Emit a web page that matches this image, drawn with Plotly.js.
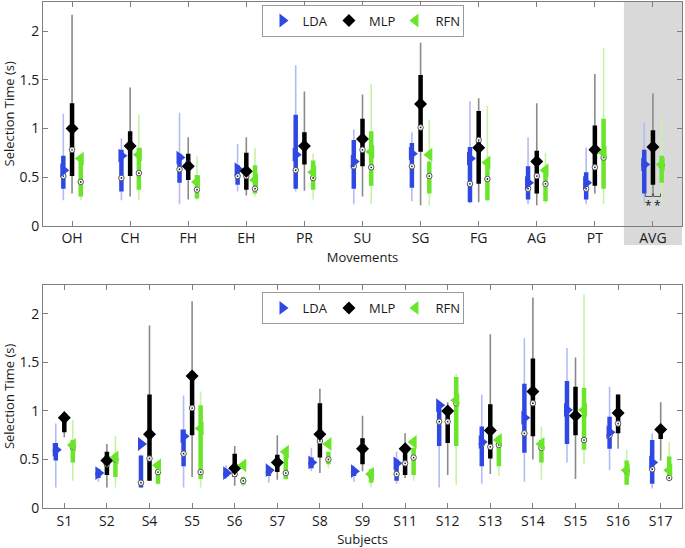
<!DOCTYPE html>
<html>
<head>
<meta charset="utf-8">
<script src="https://cdn.plot.ly/plotly-3.0.1.min.js"></script>
<style>html,body{margin:0;padding:0;background:#fff;}#chart{width:685px;height:548px;}</style>
</head>
<body>
<div id="chart"></div>
<script>
// ---------- categories ----------
const movements = ['OH','CH','FH','EH','PR','SU','SG','FG','AG','PT','AVG'];
const subjects  = ['S1','S2','S4','S5','S6','S7','S8','S9','S11','S12','S13','S14','S15','S16','S17'];
const yTickVals = [0, 0.5, 1, 1.5, 2];
const yTickText = ['0', '0.5', '1', '1.5', '2'];

// ---------- Movements: LDA ----------
const mvLdaMin    = [0.26,0.26,0.22,0.35,0.35,0.22,0.25,0.23,0.22,0.22,0.23];
const mvLdaQ1     = [0.38,0.35,0.44,0.42,0.38,0.38,0.39,0.24,0.27,0.27,0.33];
const mvLdaMedian = [0.51,0.49,0.58,0.51,0.57,0.61,0.61,0.43,0.38,0.38,0.62];
const mvLdaMean   = [0.57,0.72,0.70,0.58,0.73,0.66,0.74,0.69,0.44,0.44,0.63];
const mvLdaQ3     = [0.72,0.78,0.74,0.62,1.14,0.88,0.85,0.81,0.61,0.55,0.78];
const mvLdaMax    = [1.15,0.90,1.16,0.84,1.65,0.99,0.96,1.28,0.91,0.80,1.06];
// ---------- Movements: MLP ----------
const mvMlpMin    = [0.33,0.30,0.27,0.31,0.36,0.30,0.21,0.24,0.21,0.33,0.32];
const mvMlpQ1     = [0.51,0.51,0.47,0.37,0.63,0.61,0.76,0.43,0.33,0.41,0.42];
const mvMlpMedian = [0.78,0.80,0.64,0.51,0.80,0.78,1.01,0.88,0.51,0.60,0.80];
const mvMlpMean   = [1.00,0.82,0.61,0.56,0.82,0.89,1.25,0.80,0.66,0.78,0.81];
const mvMlpQ3     = [1.26,0.97,0.74,0.75,0.96,1.10,1.55,1.18,0.77,1.03,0.98];
const mvMlpMax    = [2.17,1.42,0.91,0.91,1.38,1.35,1.88,1.31,1.26,1.56,1.36];
// ---------- Movements: RFN ----------
const mvRfnMin    = [0.26,0.26,0.26,0.30,0.27,0.22,0.21,0.25,0.23,0.22,0.25];
const mvRfnQ1     = [0.30,0.37,0.28,0.33,0.37,0.41,0.33,0.26,0.25,0.38,0.44];
const mvRfnMedian = [0.45,0.54,0.37,0.38,0.49,0.60,0.51,0.48,0.43,0.70,0.62];
const mvRfnMean   = [0.69,0.73,0.45,0.47,0.55,0.76,0.73,0.65,0.57,0.75,0.63];
const mvRfnQ3     = [0.71,0.80,0.52,0.62,0.67,0.97,0.66,0.68,0.59,1.10,0.72];
const mvRfnMax    = [0.71,1.14,0.71,0.80,0.74,1.46,1.09,1.23,0.75,1.83,1.11];

// ---------- Subjects: LDA ----------
const sbLdaMin    = [0.21,0.27,0.21,0.21,0.30,0.26,0.38,0.27,0.25,0.21,0.25,0.27,0.47,0.39,0.20];
const sbLdaQ1     = [0.49,0.31,0.21,0.43,0.33,0.33,0.41,0.33,0.28,0.64,0.43,0.57,0.66,0.61,0.25];
const sbLdaMedian = [0.59,0.35,0.26,0.56,0.35,0.37,0.46,0.37,0.35,0.89,0.66,0.77,1.00,0.75,0.40];
const sbLdaMean   = [0.60,0.36,0.66,0.74,0.36,0.39,0.47,0.38,0.46,1.06,0.68,0.93,1.01,0.78,0.47];
const sbLdaQ3     = [0.67,0.40,0.54,0.81,0.40,0.41,0.52,0.41,0.50,1.08,0.84,1.28,1.31,0.94,0.70];
const sbLdaMax    = [0.87,0.41,0.55,1.16,0.44,0.43,0.62,0.44,0.58,1.08,1.17,1.75,1.65,1.25,0.77];
// ---------- Subjects: MLP ----------
const sbMlpMin    = [0.73,0.21,0.28,0.32,0.23,0.29,0.36,0.38,0.31,0.34,0.35,0.50,0.30,0.61,0.49];
const sbMlpQ1     = [0.78,0.34,0.28,0.75,0.32,0.37,0.52,0.45,0.34,0.67,0.51,0.74,0.75,0.77,0.71];
const sbMlpMedian = [0.92,0.45,0.51,1.03,0.35,0.45,0.69,0.64,0.46,0.89,0.63,1.08,0.94,0.87,0.80];
const sbMlpMean   = [0.93,0.49,0.76,1.36,0.41,0.47,0.76,0.61,0.61,1.00,0.80,1.20,0.95,0.98,0.81];
const sbMlpQ3     = [0.98,0.58,1.17,1.41,0.56,0.55,1.08,0.72,0.64,1.04,1.07,1.54,1.25,1.17,0.84];
const sbMlpMax    = [1.00,0.66,1.88,2.13,0.64,0.75,1.23,0.95,0.77,1.09,1.79,2.17,1.55,1.17,1.09];
// ---------- Subjects: RFN ----------
const sbRfnMin    = [0.28,0.21,0.24,0.21,0.22,0.29,0.41,0.21,0.28,0.24,0.33,0.29,0.45,0.24,0.27];
const sbRfnQ1     = [0.47,0.32,0.25,0.30,0.24,0.30,0.45,0.26,0.34,0.64,0.43,0.47,0.60,0.24,0.30];
const sbRfnMedian = [0.63,0.50,0.37,0.37,0.28,0.36,0.50,0.34,0.52,1.08,0.65,0.62,0.70,0.38,0.31];
const sbRfnMean   = [0.65,0.52,0.44,0.82,0.44,0.58,0.66,0.35,0.68,1.11,0.70,0.66,1.01,0.39,0.39];
const sbRfnQ3     = [0.70,0.56,0.41,1.06,0.32,0.60,0.58,0.40,0.62,1.35,0.74,0.70,1.24,0.49,0.53];
const sbRfnMax    = [0.91,0.74,0.46,1.20,0.33,0.62,0.58,0.41,0.70,1.38,0.76,0.84,2.20,0.60,0.68];

// ---------- styles ----------
const FONT = 'Open Sans, Arial, sans-serif';
const styles = {
  LDA: {whisker:'#b3bcf4', bar:'#2f48e4', marker:'#2f48e4', symbol:'triangle-right', size:12},
  MLP: {whisker:'#8a8a8a', bar:'#000000', marker:'#000000', symbol:'diamond', size:10},
  RFN: {whisker:'#c6f3a6', bar:'#6be52a', marker:'#6be52a', symbol:'triangle-left', size:12}
};

function segs(n, pos, lo, hi) {
  const xs = [], ys = [];
  for (let i = 0; i < n; i++) { xs.push(pos[i], pos[i], null); ys.push(lo[i], hi[i], null); }
  return {xs, ys};
}

function seriesTraces(name, cats, off, mn, q1, med, mean, q3, mx, xa, ya, leg) {
  const st = styles[name];
  const pos = cats.map((c, i) => i + 1 + off);
  const w = segs(cats.length, pos, mn, mx);
  const b = segs(cats.length, pos, q1, q3);
  return [
    {type:'scatter', mode:'lines', x:w.xs, y:w.ys, xaxis:xa, yaxis:ya, showlegend:false, hoverinfo:'skip',
     line:{color:st.whisker, width:1.6}},
    {type:'scatter', mode:'lines', x:b.xs, y:b.ys, xaxis:xa, yaxis:ya, showlegend:false, hoverinfo:'skip',
     line:{color:st.bar, width:4.5}},
    {type:'scatter', mode:'markers', x:pos, y:med, xaxis:xa, yaxis:ya, showlegend:false,
     marker:{symbol:'circle', size:5.5, color:'#ffffff', line:{color:'#555555', width:1}}},
    {type:'scatter', mode:'markers', x:pos, y:med, xaxis:xa, yaxis:ya, showlegend:false,
     marker:{symbol:'circle', size:1.8, color:'#222222', line:{width:0}}},
    {type:'scatter', mode:'markers', x:pos, y:mean, xaxis:xa, yaxis:ya, name:name, legend:leg, showlegend:true,
     marker:{symbol:st.symbol, size:st.size, color:st.marker, line:{width:0}}}
  ];
}

const offTop = 0.15, offBot = 0.2;
let traces = [];
const groups = [
  seriesTraces('LDA', movements, -offTop, mvLdaMin, mvLdaQ1, mvLdaMedian, mvLdaMean, mvLdaQ3, mvLdaMax, 'x', 'y', 'legend'),
  seriesTraces('MLP', movements, 0, mvMlpMin, mvMlpQ1, mvMlpMedian, mvMlpMean, mvMlpQ3, mvMlpMax, 'x', 'y', 'legend'),
  seriesTraces('RFN', movements, offTop, mvRfnMin, mvRfnQ1, mvRfnMedian, mvRfnMean, mvRfnQ3, mvRfnMax, 'x', 'y', 'legend'),
  seriesTraces('LDA', subjects, -offBot, sbLdaMin, sbLdaQ1, sbLdaMedian, sbLdaMean, sbLdaQ3, sbLdaMax, 'x2', 'y2', 'legend2'),
  seriesTraces('MLP', subjects, 0, sbMlpMin, sbMlpQ1, sbMlpMedian, sbMlpMean, sbMlpQ3, sbMlpMax, 'x2', 'y2', 'legend2'),
  seriesTraces('RFN', subjects, offBot, sbRfnMin, sbRfnQ1, sbRfnMedian, sbRfnMean, sbRfnQ3, sbRfnMax, 'x2', 'y2', 'legend2')
];
groups.forEach(g => traces.push(g[0], g[1]));
groups.forEach(g => traces.push(g[2], g[3], g[4]));

const axisCommon = {
  showline:true, linecolor:'#7f7f7f', linewidth:1, mirror:'ticks',
  ticks:'inside', ticklen:5, tickcolor:'#7f7f7f', showgrid:false, zeroline:false,
  tickfont:{family:FONT, size:14, color:'#1a1a1a'}
};

const legendCommon = {
  orientation:'h', x:0.5, xanchor:'center', yanchor:'top',
  bgcolor:'#ffffff', bordercolor:'#9a9a9a', borderwidth:1,
  font:{family:FONT, size:13}, itemwidth:30, tracegroupgap:0,
  entrywidth:0.104, entrywidthmode:'fraction'
};

const avgIdx = movements.indexOf('AVG') + 1;
const layout = {
  width:685, height:548,
  paper_bgcolor:'#ffffff', plot_bgcolor:'rgba(0,0,0,0)',
  margin:{l:43, r:3, t:2, b:40},
  font:{family:FONT, color:'#1a1a1a'},
  xaxis: Object.assign({}, axisCommon, {
    domain:[0,1], anchor:'y', range:[0.5, movements.length + 0.5],
    tickvals:movements.map((c,i)=>i+1), ticktext:movements,
    title:{text:'Movements', font:{family:FONT, size:13}, standoff:6}
  }),
  yaxis: Object.assign({}, axisCommon, {
    domain:[0.558,1], anchor:'x', range:[0,2.3],
    tickvals:yTickVals, ticktext:yTickText,
    title:{text:'Selection Time (s)', font:{family:FONT, size:13}, standoff:6}
  }),
  xaxis2: Object.assign({}, axisCommon, {
    domain:[0,1], anchor:'y2', range:[0.5, subjects.length + 0.5],
    tickvals:subjects.map((c,i)=>i+1), ticktext:subjects,
    title:{text:'Subjects', font:{family:FONT, size:13}, standoff:6}
  }),
  yaxis2: Object.assign({}, axisCommon, {
    domain:[0,0.441], anchor:'x2', range:[0,2.3],
    tickvals:yTickVals, ticktext:yTickText,
    title:{text:'Selection Time (s)', font:{family:FONT, size:13}, standoff:6}
  }),
  legend: Object.assign({}, legendCommon, {y:0.995}),
  legend2: Object.assign({}, legendCommon, {y:0.427}),
  shapes:[
    {type:'rect', layer:'below', xref:'x', yref:'paper', x0:avgIdx-0.5, x1:avgIdx+0.5, y0:0.52, y1:1,
     fillcolor:'#d9d9d9', line:{width:0}},
    {type:'path', xref:'x', yref:'y', layer:'above',
     path:`M ${avgIdx-offTop+0.02} 0.33 L ${avgIdx-offTop+0.02} 0.30 L ${avgIdx-0.01} 0.30 L ${avgIdx-0.01} 0.33`,
     line:{color:'#555555', width:1}},
    {type:'path', xref:'x', yref:'y', layer:'above',
     path:`M ${avgIdx+0.01} 0.33 L ${avgIdx+0.01} 0.30 L ${avgIdx+offTop-0.02} 0.30 L ${avgIdx+offTop-0.02} 0.33`,
     line:{color:'#555555', width:1}}
  ],
  annotations:[
    {xref:'x', yref:'y', x:avgIdx-offTop/2, y:0.21, text:'*', showarrow:false, font:{family:FONT, size:12, color:'#111'}},
    {xref:'x', yref:'y', x:avgIdx+offTop/2, y:0.21, text:'*', showarrow:false, font:{family:FONT, size:12, color:'#111'}}
  ]
};

Plotly.newPlot('chart', traces, layout, {displayModeBar:false, staticPlot:true});
</script>
</body>
</html>
